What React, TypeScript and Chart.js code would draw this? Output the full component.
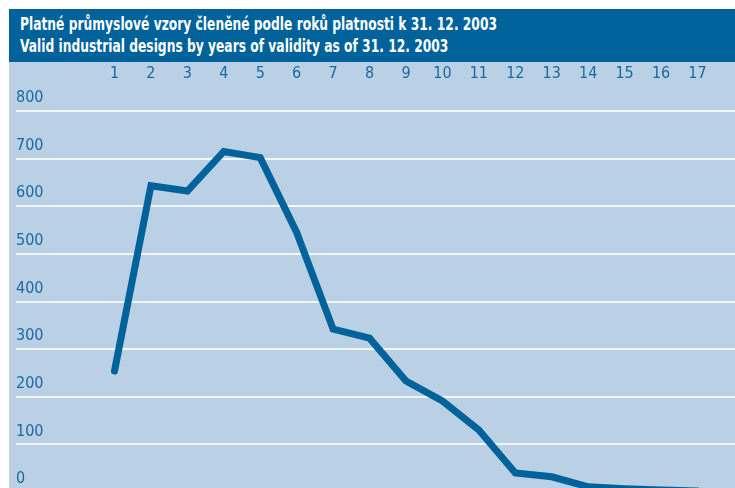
import React, { useEffect, useRef } from "react";
import { Chart, registerables } from "chart.js";

Chart.register(...registerables);

const titleLines = [
  "Platné průmyslové vzory členěné podle roků platnosti k 31. 12. 2003",
  "Valid industrial designs by years of validity as of 31. 12. 2003",
];
const categories = ["1", "2", "3", "4", "5", "6", "7", "8", "9", "10", "11", "12", "13", "14", "15", "16", "17"];
const categoryValues = [1, 2, 3, 4, 5, 6, 7, 8, 9, 10, 11, 12, 13, 14, 15, 16, 17];
const designs = [254, 643, 632, 715, 702, 545, 342, 323, 233, 191, 130, 40, 32, 11, 7, 4, 2];
const yTicks = [0, 100, 200, 300, 400, 500, 600, 700, 800];

const DARK = "#00629a";
const LIGHT = "#bad0e4";
const TICK = "#1a6aa0";
const FONT = '"Liberation Sans Narrow", "DejaVu Sans Condensed", "Liberation Sans", sans-serif';
const TITLE_WIDTH = 477;

export default function App() {
  const ref = useRef<HTMLCanvasElement | null>(null);
  const titleRef = useRef<HTMLDivElement | null>(null);
  const line1Ref = useRef<HTMLSpanElement | null>(null);

  useEffect(() => {
    if (titleRef.current && line1Ref.current) {
      const w = line1Ref.current.getBoundingClientRect().width;
      if (w > 0) titleRef.current.style.transform = `scaleX(${TITLE_WIDTH / w})`;
    }
    if (!ref.current) return;
    const chart = new Chart(ref.current, {
      type: "line",
      data: {
        datasets: [
          {
            data: categoryValues.map((x, i) => ({ x, y: designs[i] })),
            borderColor: DARK,
            borderWidth: 7,
            borderCapStyle: "round",
            borderJoinStyle: "miter",
            pointRadius: 0,
            tension: 0,
            fill: false,
          },
        ],
      },
      options: {
        animation: false,
        responsive: false,
        maintainAspectRatio: false,
        layout: { padding: { left: 0, right: 0, top: 0, bottom: 10 } },
        plugins: { legend: { display: false }, tooltip: { enabled: false }, title: { display: false } },
        clip: false,
        scales: {
          x: {
            type: "linear",
            position: "top",
            min: -1.703,
            max: 18.03,
            grid: { display: false, drawTicks: false },
            border: { display: false },
            afterBuildTicks: (scale: any) => {
              scale.ticks = categoryValues.map((v) => ({ value: v }));
            },
            afterFit: (scale: any) => {
              scale.height = 49;
            },
            ticks: {
              color: TICK,
              font: { family: FONT, size: 16 },
              padding: 28,
              maxRotation: 0,
              autoSkip: false,
              callback: (v: any) => {
                const i = categoryValues.indexOf(Number(v));
                return i >= 0 ? categories[i] : "";
              },
            },
          },
          y: {
            type: "linear",
            min: 0,
            max: 800,
            afterBuildTicks: (scale: any) => {
              scale.ticks = yTicks.map((v) => ({ value: v }));
            },
            afterFit: (scale: any) => {
              scale.width = 7;
            },
            grid: { color: "#f2f6fa", lineWidth: 2, drawTicks: false },
            border: { display: false },
            ticks: {
              mirror: true,
              padding: 0,
              labelOffset: -13,
              color: TICK,
              font: { family: FONT, size: 16 },
              callback: (v: any) => String(v),
            },
          },
        },
      },
    });
    return () => chart.destroy();
  }, []);

  return (
    <div
      style={{
        position: "absolute",
        left: 0,
        top: 0,
        width: 735,
        height: 488,
        overflow: "hidden",
        background: "#ffffff",
      }}
    >
      <div
        style={{
          position: "absolute",
          left: 9,
          top: 9,
          width: 726,
          height: 53,
          background: DARK,
        }}
      />
      <div
        ref={titleRef}
        style={{
          position: "absolute",
          left: 20,
          top: 13,
          color: "#ffffff",
          fontFamily: FONT,
          fontWeight: "bold",
          fontSize: 17,
          lineHeight: "22px",
          whiteSpace: "nowrap",
          transformOrigin: "0 0",
        }}
      >
        <div>
          <span ref={line1Ref}>{titleLines[0]}</span>
        </div>
        <div>{titleLines[1]}</div>
      </div>
      <div
        style={{
          position: "absolute",
          left: 9,
          top: 62,
          width: 726,
          height: 426,
          background: LIGHT,
        }}
      />
      <canvas
        ref={ref}
        width={726}
        height={440}
        style={{ position: "absolute", left: 9, top: 62, width: 726, height: 440 }}
      />
    </div>
  );
}
